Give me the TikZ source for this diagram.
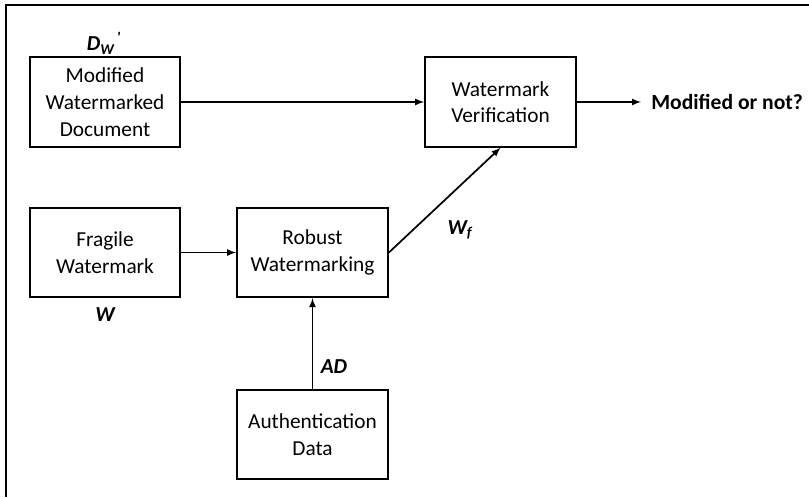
\documentclass[tikz,border=0pt]{standalone}
\usepackage{fontspec}
\setmainfont{Carlito}
\usetikzlibrary{arrows}
\usetikzlibrary{positioning}

\tikzset{
  block/.style={draw, line width=1.6pt, minimum width=113pt, minimum height=67pt,
    align=center, inner sep=2pt, font=\fontsize{16}{20}\selectfont},
  link/.style={->, >=latex, line width=1.3pt},
  sym/.style={font=\fontsize{16}{18}\selectfont\bfseries\itshape, inner sep=0pt}
}

\begin{document}
\begin{tikzpicture}[x=0.75pt, y=-0.75pt]
          \useasboundingbox (0,0) rectangle (809,497);
          \draw [line width=1.7pt] (6,497) -- (6,5) -- (809,5);

          \node[block] (mwd) at (105,102) {Modified\\Watermarked\\Document};
          \node[block] (wv) at (500.5,102) {Watermark\\Verification};
          \node[block] (fw) at (105,252.5) {Fragile\\Watermark};
          \node[block] (rw) at (312.5,252.5) {Robust\\Watermarking};
          \node[block] (ad) at (312.5,434.5) {Authentication\\Data};

          \coordinate (res) at (641,102);
          \node[anchor=west, inner sep=0pt, font=\fontsize{16.2}{18}\selectfont\bfseries] (out) at (651,102) {Modified or not?};

          \node[sym] (dw) at (104,43) {D\textsubscript{W}\textsuperscript{\,\textquotesingle}};
          \node[sym] (w) at (105,315) {W};
          \node[sym] (wf) at (460,230) {W\textsubscript{f}};
          \node[sym] (adl) at (334,367) {AD};

          \draw [link] (mwd) -- (wv);
          \draw [link] (wv) -- (res);
          \draw [link] (fw) -- (rw);
          \draw [link] (rw.east) -- (wv.south);
          \draw [link] (ad) -- (rw);

        \end{tikzpicture}
\end{document}
